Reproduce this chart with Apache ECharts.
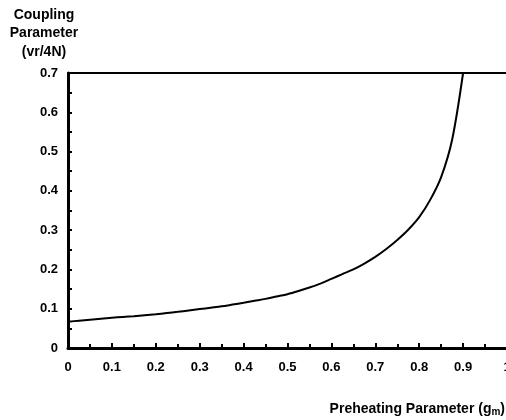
<!DOCTYPE html>
<html>
<head>
<meta charset="utf-8">
<style>
  html, body { margin: 0; padding: 0; background: #fff; }
  #chart { width: 506px; height: 420px; }
</style>
<script src="https://cdn.jsdelivr.net/npm/echarts@6/dist/echarts.min.js"></script>
</head>
<body>
<div id="chart"></div>
<script>
// Preheating parameter (g_m) sample points, evenly spaced
const preheating = [0, 0.025, 0.05, 0.075, 0.1, 0.125, 0.15, 0.175, 0.2, 0.225, 0.25, 0.275, 0.3, 0.325, 0.35, 0.375,
  0.4, 0.425, 0.45, 0.475, 0.5, 0.525, 0.55, 0.575, 0.6, 0.625, 0.65, 0.675, 0.7, 0.725, 0.75, 0.775, 0.8, 0.825, 0.85, 0.875, 0.9];
// Coupling parameter (vr/4N) at each sample point
const coupling = [0.067, 0.0695, 0.072, 0.0745, 0.077, 0.079, 0.081, 0.0835, 0.086, 0.089, 0.092, 0.0955, 0.099, 0.1025, 0.106, 0.1105,
  0.115, 0.12, 0.125, 0.131, 0.137, 0.145, 0.154, 0.164, 0.176, 0.188, 0.2, 0.215, 0.232, 0.252, 0.275, 0.301, 0.333, 0.377, 0.435, 0.53, 0.70];

const FONT = 'Liberation Sans, Arial, sans-serif';

const chart = echarts.init(document.getElementById('chart'));
chart.setOption({
  animation: false,
  backgroundColor: '#fff',
  grid: { left: 68, top: 73, width: 439, height: 275, containLabel: false, outerBoundsMode: 'none' },
  xAxis: [{
    type: 'value',
    min: 0, max: 1, interval: 0.1,
    position: 'bottom',
    axisLine: { onZero: false, lineStyle: { color: '#000', width: 3 } },
    axisTick: { inside: true, length: 5, lineStyle: { color: '#000', width: 2 } },
    minorTick: { show: true, splitNumber: 2, length: 4, lineStyle: { color: '#000', width: 2 } },
    splitLine: { show: false },
    axisLabel: { color: '#000', fontFamily: FONT, fontWeight: 'bold', fontSize: 13, margin: 13, showMaxLabel: true, hideOverlap: false },
    name: '{n|Preheating Parameter (g}{s|m}{n|)}',
    nameLocation: 'end',
    nameGap: -2,
    nameTextStyle: {
      align: 'right', verticalAlign: 'top', padding: [53, 0, 0, 0],
      rich: {
        n: { fontFamily: FONT, fontWeight: 'bold', fontSize: 14, color: '#000' },
        s: { fontFamily: FONT, fontWeight: 'bold', fontSize: 10, color: '#000', padding: [6, 0, 0, 0] }
      }
    }
  }, {
    type: 'value',
    min: 0, max: 1,
    position: 'top',
    axisLine: { show: true, onZero: false, lineStyle: { color: '#000', width: 2 } },
    axisTick: { show: false },
    axisLabel: { show: false },
    splitLine: { show: false }
  }],
  yAxis: {
    type: 'value',
    min: 0, max: 0.7, interval: 0.1,
    axisLine: { show: true, onZero: false, lineStyle: { color: '#000', width: 3 } },
    axisTick: { show: true, inside: true, length: 4, lineStyle: { color: '#000', width: 2 } },
    minorTick: { show: true, splitNumber: 2, length: 4, lineStyle: { color: '#000', width: 2 } },
    splitLine: { show: false },
    axisLabel: { color: '#000', fontFamily: FONT, fontWeight: 'bold', fontSize: 13, margin: 10 },
    name: 'Coupling\nParameter\n(vr/4N)',
    nameLocation: 'end',
    nameGap: 12,
    nameTextStyle: {
      color: '#000', fontFamily: FONT, fontWeight: 'bold', fontSize: 14,
      align: 'center', lineHeight: 18.5, padding: [0, 48, 0, 0]
    }
  },
  series: [{
    type: 'line',
    data: preheating.map((x, i) => [x, coupling[i]]),
    smooth: 0.3,
    showSymbol: false,
    lineStyle: { color: '#000', width: 2 }
  }]
});
</script>
</body>
</html>
